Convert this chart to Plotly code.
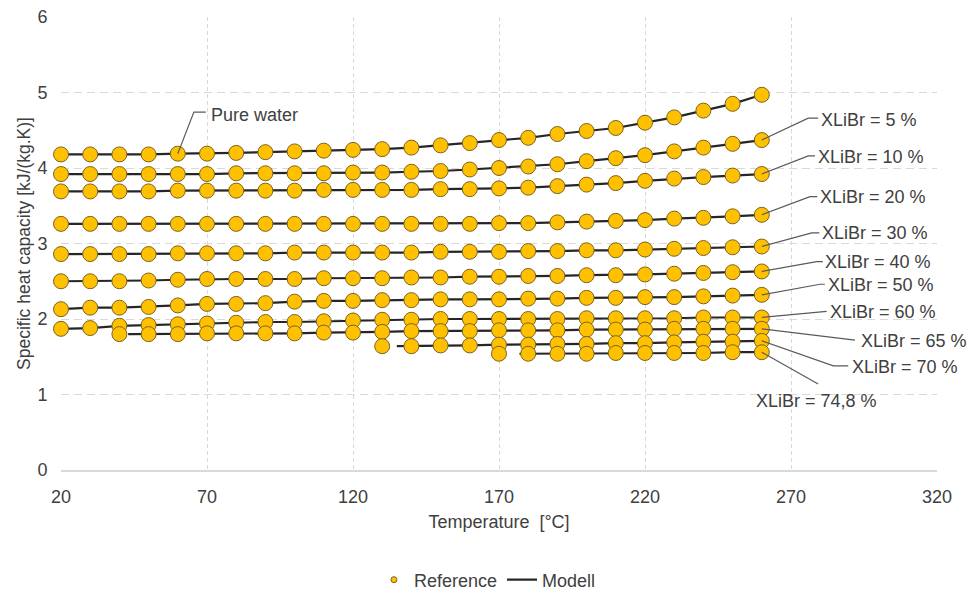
import plotly.graph_objects as go

# ---------------- data ----------------
temp_all = [20, 30, 40, 50, 60, 70, 80, 90, 100, 110, 120, 130, 140, 150, 160,
            170, 180, 190, 200, 210, 220, 230, 240, 250, 260]
temp_65 = [40, 50, 60, 70, 80, 90, 100, 110, 120, 130, 140, 150, 160,
           170, 180, 190, 200, 210, 220, 230, 240, 250, 260]
temp_70 = [130, 140, 150, 160, 170, 180, 190, 200, 210, 220, 230, 240, 250, 260]
temp_748 = [170, 180, 190, 200, 210, 220, 230, 240, 250, 260]

cp_water = [4.18, 4.18, 4.18, 4.18, 4.19, 4.19, 4.20, 4.21, 4.22, 4.23, 4.24, 4.25, 4.27,
            4.30, 4.33, 4.37, 4.40, 4.45, 4.49, 4.53, 4.60, 4.67, 4.76, 4.85, 4.97]
cp_5 = [3.92, 3.92, 3.92, 3.92, 3.92, 3.92, 3.93, 3.93, 3.93, 3.93, 3.94, 3.94, 3.95,
        3.96, 3.98, 4.00, 4.02, 4.05, 4.09, 4.13, 4.17, 4.22, 4.27, 4.32, 4.37]
cp_10 = [3.69, 3.69, 3.69, 3.69, 3.70, 3.70, 3.70, 3.70, 3.70, 3.71, 3.71, 3.71, 3.71,
         3.72, 3.72, 3.73, 3.74, 3.76, 3.78, 3.80, 3.83, 3.86, 3.88, 3.90, 3.92]
cp_20 = [3.26, 3.26, 3.26, 3.26, 3.26, 3.26, 3.26, 3.26, 3.26, 3.26, 3.26, 3.26, 3.26,
         3.26, 3.26, 3.27, 3.27, 3.28, 3.29, 3.30, 3.31, 3.33, 3.34, 3.36, 3.38]
cp_30 = [2.86, 2.86, 2.86, 2.86, 2.87, 2.87, 2.87, 2.87, 2.88, 2.88, 2.88, 2.88, 2.88,
         2.89, 2.89, 2.89, 2.90, 2.90, 2.91, 2.91, 2.92, 2.93, 2.94, 2.95, 2.96]
cp_40 = [2.50, 2.50, 2.50, 2.51, 2.52, 2.53, 2.53, 2.53, 2.53, 2.54, 2.54, 2.54, 2.55,
         2.55, 2.56, 2.56, 2.57, 2.57, 2.58, 2.58, 2.59, 2.60, 2.61, 2.62, 2.63]
cp_50 = [2.13, 2.15, 2.15, 2.16, 2.18, 2.20, 2.20, 2.21, 2.23, 2.24, 2.24, 2.25, 2.25,
         2.26, 2.26, 2.26, 2.27, 2.27, 2.28, 2.28, 2.29, 2.29, 2.30, 2.31, 2.32]
cp_60 = [1.87, 1.88, 1.91, 1.92, 1.93, 1.94, 1.95, 1.96, 1.96, 1.97, 1.98, 1.99, 1.99,
         2.00, 2.00, 2.00, 2.00, 2.00, 2.01, 2.01, 2.01, 2.01, 2.02, 2.02, 2.02]
cp_65 = [1.80, 1.80, 1.80, 1.81, 1.81, 1.81, 1.81, 1.82, 1.82, 1.83, 1.84, 1.84,
         1.84, 1.85, 1.85, 1.85, 1.86, 1.86, 1.86, 1.87, 1.87, 1.87, 1.87]
cp_70 = [1.64, 1.64, 1.65, 1.65, 1.66, 1.66, 1.67, 1.67, 1.68, 1.68, 1.69, 1.70, 1.70, 1.71]
cp_748 = [1.54, 1.54, 1.54, 1.54, 1.55, 1.55, 1.55, 1.55, 1.56, 1.56]

series_labels = ["Pure water", "XLiBr = 5 %", "XLiBr = 10 %", "XLiBr = 20 %",
                 "XLiBr = 30 %", "XLiBr = 40 %", "XLiBr = 50 %", "XLiBr = 60 %",
                 "XLiBr = 65 %", "XLiBr = 70 %", "XLiBr = 74,8 %"]
series_T = [temp_all, temp_all, temp_all, temp_all, temp_all, temp_all, temp_all,
            temp_all, temp_65, temp_70, temp_748]
series_cp = [cp_water, cp_5, cp_10, cp_20, cp_30, cp_40, cp_50, cp_60,
             cp_65, cp_70, cp_748]

# Model curves start (where they differ from first reference point)
model_start_T = [None, None, None, None, None, None, None, None, 43, 135, 177]
model_start_cp = [None, None, None, None, None, None, None, None, 1.80, 1.64, 1.54]

# ---------------- styles / layout ----------------
FONT = "Liberation Sans, Arial, sans-serif"
TXT = "#404040"
GRID = "#d9d9d9"

fig = go.Figure()

# model lines (drawn underneath markers)
mx, my = [], []
for T, cp, t0, c0 in zip(series_T, series_cp, model_start_T, model_start_cp):
    if t0 is None:
        xs, ys = list(T), list(cp)
    else:
        xs = [t0] + [t for t in T if t > t0]
        ys = [c0] + [c for t, c in zip(T, cp) if t > t0]
    mx += xs + [None]
    my += ys + [None]

fig.add_trace(go.Scatter(x=mx, y=my, mode="lines", name="Modell",
                         line=dict(color="#262626", width=2.2),
                         legendrank=2, connectgaps=False, hoverinfo="skip",
                         cliponaxis=False))

# reference markers
rx, ry = [], []
for T, cp in zip(series_T, series_cp):
    rx += list(T) + [None]
    ry += list(cp) + [None]
fig.add_trace(go.Scatter(x=rx, y=ry, mode="markers", name="Reference",
                         marker=dict(size=15, color="#FFC000",
                                     line=dict(color="#7a6320", width=1)),
                         showlegend=False, cliponaxis=False))
# legend entry for reference (small dot as in original)
fig.add_trace(go.Scatter(x=[None], y=[None], mode="markers", name="Reference",
                         marker=dict(size=6, color="#FFC000",
                                     line=dict(color="#7a6320", width=1)),
                         legendrank=1))

# label layout: leader path (after the point) and text position, data coords
label_layout = [
    ([(65.5, 4.74), (69.6, 4.74)], 70.8, 4.70, "left"),
    ([(275.9, 4.66), (279.3, 4.66)], 279.7, 4.63, "left"),
    ([(275.9, 4.16), (278.2, 4.16)], 278.4, 4.15, "left"),
    ([(276.5, 3.62), (279.0, 3.62)], 279.2, 3.62, "left"),
    ([(277.1, 3.14), (279.7, 3.14)], 280.0, 3.14, "left"),
    ([(278.8, 2.76), (280.9, 2.76)], 281.1, 2.76, "left"),
    ([(279.9, 2.46), (281.6, 2.46)], 282.0, 2.45, "left"),
    ([(282.2, 2.10)], 282.6, 2.09, "left"),
    ([(291.9, 1.72)], 293.2, 1.71, "left"),
    ([(284.5, 1.38), (289.6, 1.38)], 290.2, 1.37, "left"),
    ([(279.3, 1.14)], 278.8, 0.92, "center"),
]
label_anchor_T = [60, 260, 260, 260, 260, 260, 260, 260, 260, 260, 260]

for lab, T, cp, anchorT, (pts, tx, ty, xa) in zip(series_labels, series_T, series_cp,
                                                   label_anchor_T, label_layout):
    y0 = cp[T.index(anchorT)]
    path = "M %f,%f" % (anchorT, y0) + "".join(" L %f,%f" % p for p in pts)
    fig.add_shape(type="path", path=path, xref="x", yref="y",
                  line=dict(color="#595959", width=1.2), layer="above")
    fig.add_annotation(x=tx, y=ty, xref="x", yref="y", text=lab, showarrow=False,
                       xanchor=xa, yanchor="middle",
                       font=dict(family=FONT, size=18, color=TXT))

fig.update_layout(
    width=971, height=590,
    margin=dict(l=61, r=34, t=17, b=120, autoexpand=False),
    paper_bgcolor="white", plot_bgcolor="white",
    font=dict(family=FONT, size=18, color=TXT),
    legend=dict(orientation="h", xref="container", x=0.502, xanchor="center",
                yref="container", y=0.017, yanchor="middle",
                font=dict(family=FONT, size=18, color=TXT),
                bgcolor="rgba(0,0,0,0)"),
    xaxis=dict(range=[20, 320], tick0=20, dtick=50, showgrid=True,
               gridcolor=GRID, griddash="4px,3px", gridwidth=1,
               showline=True, linecolor=GRID, linewidth=2, zeroline=False,
               ticks="outside", ticklen=9, tickcolor="rgba(0,0,0,0)",
               tickfont=dict(family=FONT, size=18, color=TXT),
               title=dict(text="Temperature  [°C]", standoff=10,
                          font=dict(family=FONT, size=18, color=TXT))),
    yaxis=dict(range=[0, 6], dtick=1, showgrid=True, gridcolor=GRID,
               griddash="8px,5px", gridwidth=1, zeroline=False, showline=False,
               ticks="outside", ticklen=9, tickcolor="rgba(0,0,0,0)",
               tickfont=dict(family=FONT, size=18, color=TXT),
               title=dict(text="Specific heat capacity [kJ/(kg.K)]", standoff=2,
                          font=dict(family=FONT, size=17.5, color=TXT))),
)

fig.write_html("out.html")
